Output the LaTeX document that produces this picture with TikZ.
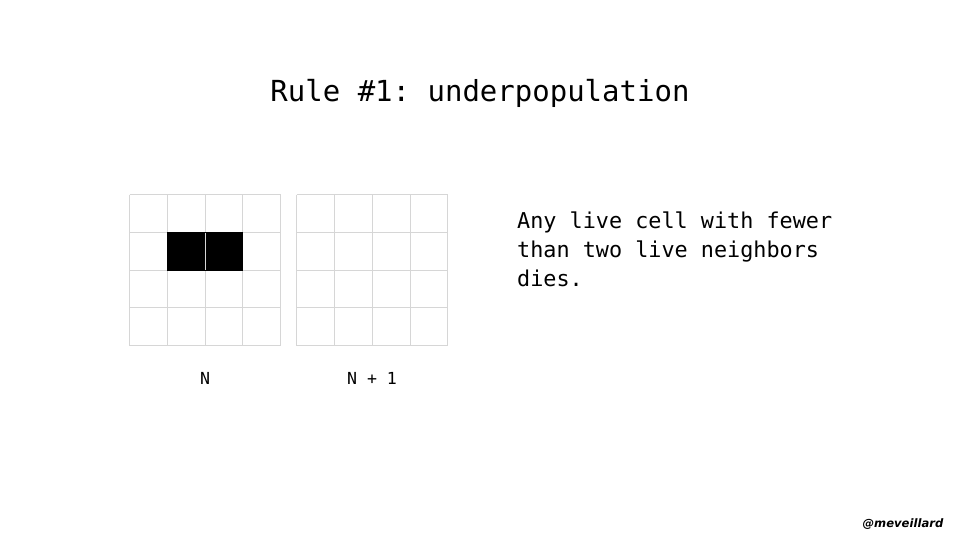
\documentclass[tikz,border=0pt]{standalone}
\usepackage{fontspec}
\newfontfamily\monofont{DejaVu Sans Mono}
\newfontfamily\signfont{DejaVu Sans}
\begin{document}
\frenchspacing
\begin{tikzpicture}[x=1pt,y=-1pt,
  gridline/.style={draw=black!16, line width=1pt},
  livecell/.style={fill=black},
  titletext/.style={font={\monofont\frenchspacing\fontsize{29}{34}\selectfont}},
  bodytext/.style={font={\monofont\frenchspacing\fontsize{21.8}{29}\selectfont}, align=left, inner sep=0pt},
  labeltext/.style={font={\monofont\frenchspacing\fontsize{16.6}{20}\selectfont}, inner sep=0pt},
  signtext/.style={font={\signfont\bfseries\itshape\fontsize{11.6}{14}\selectfont}, inner sep=0pt}]
\useasboundingbox[fill=white] (0,0) rectangle (960,540);

% live cells of generation N
\fill[livecell] (167.25,232.25) rectangle (205,270);
\fill[livecell] (205,232.25) rectangle (242.75,270);

% grid N
\foreach \i in {0,...,4} {
  \draw[gridline] (129.5+\i*37.75,194.5) -- (129.5+\i*37.75,345.5);
  \draw[gridline] (129.5,194.5+\i*37.75) -- (280.5,194.5+\i*37.75);
}
% grid N+1
\foreach \i in {0,...,4} {
  \draw[gridline] (296.75+\i*37.75,194.5) -- (296.75+\i*37.75,345.5);
  \draw[gridline] (296.75,194.5+\i*37.75) -- (447.75,194.5+\i*37.75);
}
% black borders around the live cells
\draw[black, line width=1pt] (167.25,232.25) rectangle (242.75,270);
\draw[gridline] (205,232.75) -- (205,269.5);

\node[titletext, anchor=base] (title) at (480,102) {Rule \#1: underpopulation};
\node[bodytext, anchor=north west] (rule) at (517,211.5) {Any live cell with fewer\\than two live neighbors\\dies.};
\node[labeltext, anchor=base] (labN) at (205,384) {N};
\node[labeltext, anchor=base] (labN1) at (372,384) {N + 1};
\node[signtext, anchor=base] (sign) at (903,527) {@meveillard};
\end{tikzpicture}
\end{document}
